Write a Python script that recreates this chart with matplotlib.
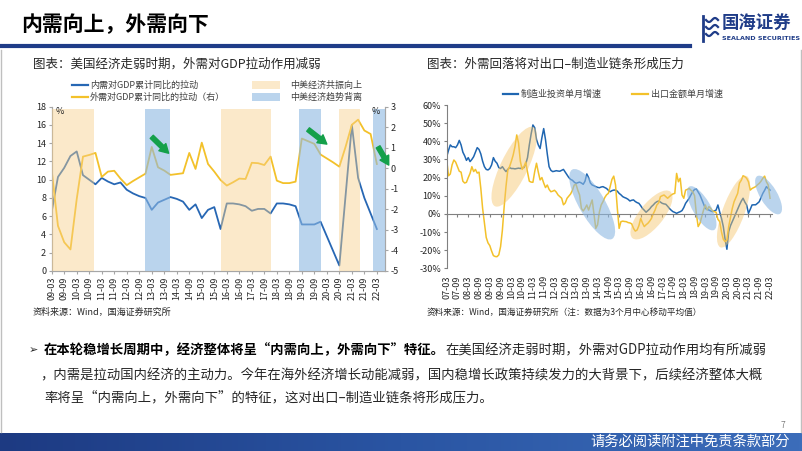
import matplotlib
matplotlib.use("Agg")
import matplotlib.pyplot as plt
import numpy as np
from matplotlib.lines import Line2D
from matplotlib.patches import Rectangle, Ellipse
from matplotlib.transforms import ScaledTranslation
from matplotlib.colors import LinearSegmentedColormap

plt.rcParams['font.family'] = ['Noto Sans CJK SC', 'DejaVu Sans']
plt.rcParams['axes.unicode_minus'] = False

# ---------------- 左图：季度数据 09-03 ~ 22-03 ----------------
quarters = [f"{y:02d}-{m:02d}" for y in range(9, 23) for m in (3, 6, 9, 12)][:53]
# 内需对GDP累计同比的拉动（左轴, %）
domestic = [6.5, 10.3, 11.3, 12.6, 13.1, 10.5, 10.0, 9.5, 10.2, 9.8, 9.5, 9.7, 8.9,
            8.5, 8.2, 8.0, 6.7, 7.5, 7.8, 8.1, 7.9, 7.6, 6.7, 7.3, 5.8, 6.7,
            7.0, 4.6, 7.4, 7.4, 7.3, 7.1, 6.6, 6.8, 6.8, 6.3, 7.4, 7.4, 7.3,
            7.1, 5.1, 5.1, 5.1, 5.4, 3.8, 2.2, 0.6, 8.3, 16.0, 10.2, 8.0, 6.3, 4.6]
# 外需对GDP累计同比的拉动（右轴, %）
external = [-0.1, -2.8, -3.6, -3.95, -1.5, 0.57, 0.65, 0.75, -0.42, -0.16, -0.12, -0.5, -0.82,
            -0.62, -0.44, -0.26, 1.04, 0.05, -0.11, -0.32, -0.28, -0.24, 0.75, -0.03, 1.25, 0.21,
            -0.16, -0.57, -0.84, -0.68, -0.5, -0.52, 0.27, 0.25, 0.16, 0.57, -0.6, -0.72, -0.72,
            -0.65, 1.45, 1.32, 1.19, 0.67, 0.48, 0.29, 0.08, 1.05, 2.12, 2.37, 1.84, 1.67, 0.21]
# 阴影区间（季度序号）
band_up = [(0, 6.7), (27.1, 35.1), (46.0, 49.3)]        # 中美经济共振向上
band_div = [(14.9, 18.9), (39.6, 43.1), (51.4, 53.3)]   # 中美经济趋势背离

# ---------------- 右图：月度数据 07-03 ~ 22-03（3个月中心移动平均） ----------------
months = [f"{y:02d}-{m:02d}" for y in range(7, 23) for m in range(1, 13)][2:183]
mfg_invest = [31.5, 35, 38, 37, 37, 36.5, 38, 40.5, 38, 34,
              32, 29.5, 31, 28.8, 30, 31.5, 34, 36.5, 35.5, 33, 29, 26,
              24.5, 24.2, 25, 27, 31, 29, 27.9, 25.5, 25, 26, 24.5, 23.3,
              24.5, 25.5, 25, 25, 24.8, 25, 25.2, 25, 25.5, 25.5, 27.5, 31,
              38, 44, 49, 47.5, 41, 38, 36, 42, 47, 41, 33, 26,
              24, 23.3, 23.5, 23.8, 23.6, 23.5, 24, 24.5, 23, 21.4, 20, 19,
              18.5, 17.5, 16.8, 17.2, 17.5, 17, 16.3, 18, 22, 20, 17, 15.9,
              15.5, 15, 14.6, 14.4, 14.8, 15, 14.5, 14, 13, 12.2, 12.8, 13.1,
              13.1, 12.5, 11.3, 10.5, 9.5, 9, 8.6, 8, 7.1, 7.5, 7.7, 6.8,
              6.2, 5.8, 4.5, 3, 2, 0.9, 1.8, 2.7, 4, 4.9, 6, 6.7,
              7.1, 6.5, 5.8, 5.5, 5.3, 4.2, 3, 2, 1.2, 0.8, 0.3, 0.8,
              1.2, 1.8, 3.5, 5.8, 7.2, 8.6, 10.5, 12.2, 13.5, 13.7, 12, 10.4,
              8, 5.5, 3, 2.5, 2.1, 1.6, 1.2, 1.6, 2.1, 4.9, 1, -2.5,
              -7, -14, -19.5, -9.8, -6.5, -4.3, -2, 0.3, 2.5, 4.9, 7, 8.6,
              6.5, 4.9, 0.3, 2.5, 4.9, 5, 5, 5.8, 6.7, 9, 11.3, 13,
              15, 14, 13.1]
exports = [29.7, 21, 22, 27, 29.7, 28.5, 26, 23.5, 23, 18,
           17, 17.4, 20, 22.3, 26, 23.3, 24.5, 22.5, 23, 14, 3, -5,
           -13, -16, -17.5, -20.5, -23, -23.5, -23.6, -22.6, -18, -9, 4, 15,
           24, 26, 29, 32.4, 37, 43.5, 39, 29, 24.5, 26, 28.5, 23,
           18, 17.5, 17.4, 23.3, 27.9, 23, 18.7, 20, 17, 14.5, 15.9, 13.5,
           12.2, 12.5, 13, 12, 10.4, 9.5, 8.6, 5, 6, 8.6, 9.8, 11,
           13, 15.9, 16.3, 13, 10.4, 3, 1.6, 3, 4.9, 2.1, 5, 7.7,
           0, -8, -6, 1, 4.9, 6.7, 9, 10.5, 11.3, 15, 19, 20.8,
           15.9, 3, -8, -4.3, -4, -4.2, -4.3, -4.8, -5, -5.5, -8, -9.5,
           -8.9, -6.5, -2.5, -5, -7, -6, -5.2, -4, -2.5, 0, 2.1, 4.9,
           6, 9.5, 10, 10.4, 9.5, 8.6, 9.5, 10.4, 11, 11.3, 22.3, 17.7,
           19.6, 10.4, 8.6, 13.1, 13.5, 14, 13, 12.2, 10, 0, -7, -5.2,
           -1.5, 2.1, 4.9, 2.1, 4, 3, 1.6, 1.2, 0.9, -3, -4.3, -10,
           -14, -15.3, -14.4, -7, -2, 3, 6.7, 9, 11.3, 17, 18.5, 21,
           20.5, 19.6, 17.7, 13.1, 14, 14.5, 15, 16, 16.8, 18, 19.6, 20.8,
           17.7, 15.9, 8.6]

BLUE = '#2767B4'
YELLOW = '#F3C12A'
NAVY = '#1F3C88'
GRAY = '#A6A6A6'
TXT = '#262626'

W, H = 802, 451
fig = plt.figure(figsize=(W / 100, H / 100), dpi=100)


def fx(x):
    return x / W


def fy(y):
    return 1 - y / H


# ---------- 页眉 ----------
fig.text(fx(21), fy(25), '内需向上，外需向下', fontsize=15, fontweight='bold', va='center', color='black')
fig.add_artist(Line2D([0, fx(690)], [fy(45.5)] * 2, color=NAVY, lw=3))
fig.text(fx(722), fy(23), '国海证券', fontsize=12.5, fontweight='bold', va='center', color=NAVY)
fig.text(fx(722.5), fy(38), 'SEALAND SECURITIES', fontsize=4.6, fontweight='bold', va='center',
         color=NAVY, family='DejaVu Sans')
fig.add_artist(Line2D([fx(703)] * 2, [fy(16), fy(41)], color=NAVY, lw=2))
for yy in (20, 27, 34):
    xs = np.linspace(706, 718, 20)
    fig.add_artist(Line2D(fx(xs), fy(yy + 2 * np.sin((xs - 706) / 12 * 2 * np.pi)), color=NAVY, lw=1.6))

# ---------- 左图 ----------
fig.text(fx(33), fy(64), '图表：美国经济走弱时期，外需对GDP拉动作用减弱', fontsize=9, va='center', color=TXT)

ax1 = fig.add_axes([fx(51.7), fy(271), (385 - 51.7) / W, (271 - 106.7) / H])
ax1r = ax1.twinx()
x_q = np.arange(len(quarters))
ax1.plot(x_q, domestic, color=BLUE, lw=1.3, zorder=2)
ax1r.plot(x_q, external, color=YELLOW, lw=1.3, zorder=2)
for a, b in band_up:
    ax1r.axvspan(a, b, ymin=0, ymax=0.985, color='#F8D08A', alpha=0.45, lw=0, zorder=3)
for a, b in band_div:
    ax1r.axvspan(a, b, ymin=0, ymax=0.985, color='#8DB8E2', alpha=0.6, lw=0, zorder=3)

ax1.set_xlim(0, 53.3)
ax1.set_ylim(0, 18)
ax1r.set_ylim(-5, 3)
ax1.set_yticks(range(0, 19, 2))
ax1r.set_yticks(range(-5, 4))
ax1.set_xticks(x_q[::2])
ax1.set_xticklabels(quarters[::2], rotation=90, fontsize=6.5, color=TXT)
ax1.tick_params(axis='y', labelsize=6.5, labelcolor=TXT, length=2, direction='out', color=GRAY, pad=2)
ax1.tick_params(axis='x', length=2, color=GRAY, pad=2)
ax1r.tick_params(axis='y', labelsize=6.5, labelcolor=TXT, length=2, direction='out', color=GRAY, pad=2)
for ax in (ax1, ax1r):
    ax.spines['top'].set_visible(False)
    for s in ('left', 'right', 'bottom'):
        ax.spines[s].set_color(GRAY)
        ax.spines[s].set_linewidth(0.8)
    ax.patch.set_visible(False)

fig.text(fx(56), fy(111), '%', fontsize=6.5, va='center', color=TXT)
fig.text(fx(372), fy(111), '%', fontsize=6.5, va='center', color=TXT)

# 绿色箭头（外需拉动回落）
arrows = [((16, 14.7), (18.7, 12.9)), ((41, 15.5), (44, 13.9)), ((52.2, 13.6), (53.9, 11.6))]
for (x0, y0), (x1, y1) in arrows:
    ax1r.annotate('', xy=(x1, y1), xytext=(x0, y0), xycoords=ax1.transData, textcoords=ax1.transData,
                  annotation_clip=False, zorder=6,
                  arrowprops=dict(arrowstyle='simple,head_width=0.8,head_length=0.7,tail_width=0.35',
                                  color='#14A04A', mutation_scale=9, shrinkA=0, shrinkB=0))

# 左图图例
fs_leg = 6.5
fig.add_artist(Line2D([fx(72), fx(88)], [fy(85)] * 2, color=BLUE, lw=1.6))
fig.text(fx(90), fy(85), '内需对GDP累计同比的拉动', fontsize=fs_leg, va='center', color='#404040')
fig.add_artist(Line2D([fx(72), fx(88)], [fy(97)] * 2, color=YELLOW, lw=1.6))
fig.text(fx(90), fy(97), '外需对GDP累计同比的拉动（右）', fontsize=fs_leg, va='center', color='#404040')
fig.add_artist(Rectangle((fx(252), fy(89)), 28 / W, 8 / H, color='#F8D08A', alpha=0.45, lw=0))
fig.text(fx(290), fy(85), '中美经济共振向上', fontsize=fs_leg, va='center', color='#404040')
fig.add_artist(Rectangle((fx(252), fy(100.5)), 28 / W, 8 / H, color='#8DB8E2', alpha=0.6, lw=0))
fig.text(fx(290), fy(97), '中美经济趋势背离', fontsize=fs_leg, va='center', color='#404040')

fig.text(fx(33), fy(312), '资料来源：Wind，国海证券研究所', fontsize=6.5, va='center', color=TXT)

# ---------- 右图 ----------
fig.text(fx(427), fy(64), '图表：外需回落将对出口–制造业链条形成压力', fontsize=9, va='center', color=TXT)

ax2 = fig.add_axes([fx(446.7), fy(268.3), (771.8 - 446.7) / W, (268.3 - 105) / H])
x_m = np.arange(len(months))
ax2.plot(x_m, mfg_invest, color='#1F66B1', lw=1.1, zorder=2)
ax2.plot(x_m, exports, color=YELLOW, lw=1.1, zorder=2)
ax2.set_xlim(0, 181)
ax2.set_ylim(-30, 60)
ax2.set_yticks(range(-30, 61, 10))
ax2.set_yticklabels([f'{v}%' for v in range(-30, 61, 10)], fontsize=6.5, color=TXT)
ax2.tick_params(axis='y', length=2, color='#808080', pad=2)
ax2.spines['top'].set_visible(False)
ax2.spines['right'].set_visible(False)
ax2.spines['left'].set_color('#808080')
ax2.spines['bottom'].set_position(('data', 0))
ax2.spines['bottom'].set_color('#808080')
ax2.set_xticks(x_m[::6])
ax2.tick_params(axis='x', length=2.5, color='#808080', labelbottom=False)
ax2.patch.set_visible(False)
sec = ax2.secondary_xaxis('bottom')
sec.set_xticks(x_m[::6])
sec.set_xticklabels(months[::6], rotation=90, fontsize=6.5, color=TXT)
sec.tick_params(length=0, pad=5)
sec.spines['bottom'].set_visible(False)

# 椭圆高亮：(中心月份序号, 中心值, 长轴px, 短轴px, 角度, 颜色)
highlights = [(37.6, 26, 88, 27, 64, 'y'), (81, 5.3, 80, 26, -60, 'b'), (114, -0.6, 60, 24, 51, 'y'),
              (142, 3.1, 50, 18, -60, 'b'), (159.7, 1.2, 76, 22, 70, 'y'), (179.2, 10.4, 44, 17, -59, 'b')]
for cx, cy, w, h, ang, kind in highlights:
    tr = fig.dpi_scale_trans + ScaledTranslation(cx, cy, ax2.transData)
    col, al = ('#F5C46A', 0.45) if kind == 'y' else ('#8DB8E2', 0.6)
    ax2.add_patch(Ellipse((0, 0), w / 100, h / 100, angle=ang, transform=tr, color=col, alpha=al,
                          lw=0, zorder=3, clip_on=False))

fig.add_artist(Line2D([fx(503), fx(518)], [fy(94.3)] * 2, color='#1F66B1', lw=1.6))
fig.text(fx(521), fy(94.3), '制造业投资单月增速', fontsize=fs_leg, va='center', color='#404040')
fig.add_artist(Line2D([fx(632), fx(648)], [fy(94.3)] * 2, color=YELLOW, lw=1.6))
fig.text(fx(651), fy(94.3), '出口金额单月增速', fontsize=fs_leg, va='center', color='#404040')

fig.text(fx(427), fy(312), '资料来源：Wind，国海证券研究所（注：数据为3个月中心移动平均值）',
         fontsize=6.2, va='center', color=TXT)

# ---------- 正文 ----------
fs_body = 9.6
fig.text(fx(29), fy(350), '➢', fontsize=8, va='center', color=TXT, family=['DejaVu Sans'])
t1 = fig.text(fx(44), fy(350), '在本轮稳增长周期中，经济整体将呈“内需向上，外需向下”特征。',
              fontsize=fs_body, fontweight='bold', va='center', color='black')
renderer = fig.canvas.get_renderer()
bb = t1.get_window_extent(renderer)
fig.text(bb.x1 / fig.bbox.width, fy(350), '在美国经济走弱时期，外需对GDP拉动作用均有所减弱',
         fontsize=fs_body, va='center', color=TXT)
fig.text(fx(40), fy(375), '，内需是拉动国内经济的主动力。今年在海外经济增长动能减弱，国内稳增长政策持续发力的大背景下，后续经济整体大概',
         fontsize=fs_body, va='center', color=TXT)
fig.text(fx(44), fy(397), '率将呈“内需向上，外需向下”的特征，这对出口–制造业链条将形成压力。',
         fontsize=fs_body, va='center', color=TXT)

# ---------- 页脚 ----------
fig.text(fx(781), fy(425), '7', fontsize=6, va='center', color='#808080')
axf = fig.add_axes([0, 0, 1, 18.5 / H])
grad = np.linspace(0, 1, 256).reshape(1, -1)
axf.imshow(grad, aspect='auto', cmap=LinearSegmentedColormap.from_list('ft', ['#1D3A82', '#2A55A3', '#3C6DBA']))
axf.axis('off')
fig.text(fx(790), fy(441.5), '请务必阅读附注中免责条款部分', fontsize=10.3, ha='right', va='center', color='white')
fig.add_artist(Line2D([fx(0.8)] * 2, [fy(50), fy(432)], color='#BFBFBF', lw=1))
fig.add_artist(Line2D([fx(800.5)] * 2, [fy(50), fy(432)], color='#BFBFBF', lw=1))

fig.savefig('out.png', dpi=100)
